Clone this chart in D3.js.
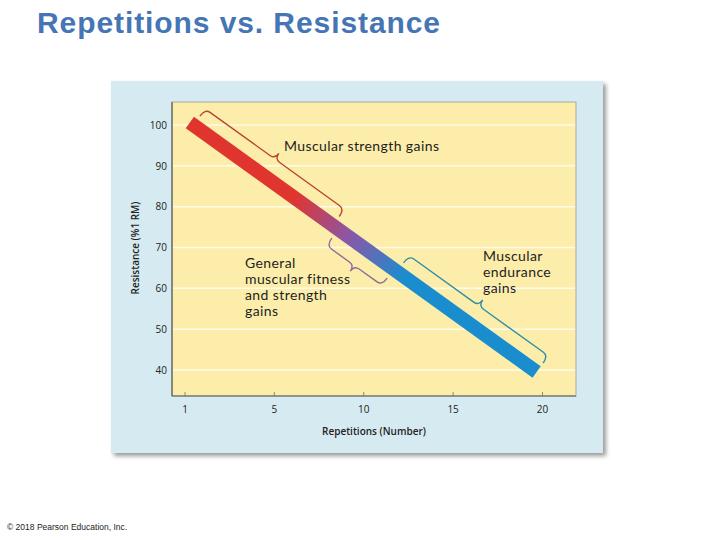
<!DOCTYPE html>
<html>
<head>
<meta charset="utf-8">
<script src="https://cdn.jsdelivr.net/npm/d3@7"></script>
<style>
  body { margin: 0; background: #fff; }
  svg { display: block; }
</style>
</head>
<body>
<div id="chart"></div>
<script>
// values
const xTickValues = [0, 5, 10, 15, 20];
const xTickLabels = ["1", "5", "10", "15", "20"];
const yTickValues = [40, 50, 60, 70, 80, 90, 100];

// the thick bar: repetitions vs resistance at its two ends
const barReps = [0.3, 19.7];
const barResistance = [100.6, 39.5];

// brace ranges along the bar (in repetitions)
const braceNames = ["strength", "general", "endurance"];
const braceFrom = [0.5, 8.6, 11.9];
const braceTo = [8.3, 11.7, 19.7];
const braceSide = [1, -1, 1];
const braceColors = ["#b8452f", "#8e6b98", "#2f8ea6"];

const labelLines = [
  ["Muscular strength gains"],
  ["General", "muscular fitness", "and strength", "gains"],
  ["Muscular", "endurance", "gains"]
];

const width = 720, height = 540;

const svg = d3.select("#chart").append("svg")
  .attr("width", width)
  .attr("height", height);

const defs = svg.append("defs");

// shadow for the blue panel
defs.append("filter")
  .attr("id", "shadow")
  .attr("x", "-5%").attr("y", "-5%")
  .attr("width", "115%").attr("height", "115%")
  .append("feGaussianBlur")
  .attr("stdDeviation", 2);

// title
svg.append("text")
  .attr("x", 37)
  .attr("y", 33)
  .attr("font-family", "Liberation Sans, Arial, sans-serif")
  .attr("font-size", 30)
  .attr("font-weight", "bold")
  .attr("fill", "#4675b5")
  .attr("textLength", 403)
  .attr("lengthAdjust", "spacing")
  .text("Repetitions vs. Resistance");

// copyright
svg.append("text")
  .attr("x", 7)
  .attr("y", 530)
  .attr("font-family", "Liberation Sans, Arial, sans-serif")
  .attr("font-size", 8.5)
  .attr("fill", "#222")
  .text("\u00a9 2018 Pearson Education, Inc.");

// panel
const panel = {x: 111, y: 81, w: 492, h: 372};
svg.append("rect")
  .attr("x", panel.x + 3).attr("y", panel.y + 3)
  .attr("width", panel.w).attr("height", panel.h)
  .attr("fill", "#9a9a9a")
  .attr("filter", "url(#shadow)");
svg.append("rect")
  .attr("x", panel.x).attr("y", panel.y)
  .attr("width", panel.w).attr("height", panel.h)
  .attr("fill", "#d6eaf1");

// plot area
const plot = {left: 172, right: 576, top: 102, bottom: 396};

const x = d3.scaleLinear().domain([0, 20]).range([184.5, 542]);
const y = d3.scaleLinear().domain([40, 100]).range([370, 125]);

svg.append("rect")
  .attr("x", plot.left).attr("y", plot.top)
  .attr("width", plot.right - plot.left)
  .attr("height", plot.bottom - plot.top)
  .attr("fill", "#fcedab")
  .attr("stroke", "#a9a9a0")
  .attr("stroke-width", 1);

// grid lines
svg.append("g")
  .selectAll("line")
  .data(yTickValues)
  .join("line")
  .attr("x1", plot.left + 1)
  .attr("x2", plot.right - 1)
  .attr("y1", d => y(d))
  .attr("y2", d => y(d))
  .attr("stroke", "#fffbe8")
  .attr("stroke-width", 1.5);

// axes
const xAxis = d3.axisBottom(x)
  .tickValues(xTickValues)
  .tickFormat((d, i) => xTickLabels[i])
  .tickSizeInner(-4)
  .tickSizeOuter(0)
  .tickPadding(10);

const gx = svg.append("g")
  .attr("transform", `translate(0,${plot.bottom})`)
  .call(xAxis);
gx.select(".domain").remove();
gx.selectAll(".tick line").attr("stroke", "#8a8a80");
gx.selectAll("text")
  .attr("font-family", "Open Sans, sans-serif")
  .attr("font-size", 10)
  .attr("fill", "#222");

const yAxis = d3.axisLeft(y)
  .tickValues(yTickValues)
  .tickSize(0)
  .tickPadding(5);

const gy = svg.append("g")
  .attr("transform", `translate(${plot.left},0)`)
  .call(yAxis);
gy.select(".domain").remove();
gy.selectAll("text")
  .attr("font-family", "Open Sans, sans-serif")
  .attr("font-size", 10)
  .attr("fill", "#222");

// darker left and bottom axis lines
svg.append("line")
  .attr("x1", plot.left).attr("x2", plot.left)
  .attr("y1", plot.top).attr("y2", plot.bottom)
  .attr("stroke", "#5a5a55").attr("stroke-width", 1.2);
svg.append("line")
  .attr("x1", plot.left).attr("x2", plot.right)
  .attr("y1", plot.bottom).attr("y2", plot.bottom)
  .attr("stroke", "#5a5a55").attr("stroke-width", 1.2);

// axis titles
svg.append("text")
  .attr("x", (plot.left + plot.right) / 2)
  .attr("y", 435)
  .attr("text-anchor", "middle")
  .attr("font-family", "Open Sans, sans-serif")
  .attr("font-size", 10)
  .attr("font-weight", 600)
  .attr("fill", "#222")
  .text("Repetitions (Number)");

svg.append("text")
  .attr("transform", "translate(139,248) rotate(-90)")
  .attr("text-anchor", "middle")
  .attr("font-family", "Open Sans, sans-serif")
  .attr("font-size", 10)
  .attr("font-weight", 600)
  .attr("fill", "#222")
  .text("Resistance (%1 RM)");

// bar with colour gradient
const barRes = d3.scaleLinear().domain(barReps).range(barResistance);
const barPts = barReps.map((r, i) => [x(r), y(barResistance[i])]);

const grad = defs.append("linearGradient")
  .attr("id", "barGrad")
  .attr("gradientUnits", "userSpaceOnUse")
  .attr("x1", barPts[0][0]).attr("y1", barPts[0][1])
  .attr("x2", barPts[1][0]).attr("y2", barPts[1][1]);
grad.selectAll("stop")
  .data([
    {o: 0, c: "#e0352f"},
    {o: 0.3, c: "#e0352f"},
    {o: 0.46, c: "#8a57a8"},
    {o: 0.62, c: "#1a8dcf"},
    {o: 1, c: "#1a8dcf"}
  ])
  .join("stop")
  .attr("offset", d => d.o)
  .attr("stop-color", d => d.c);

const line = d3.line()
  .x(d => x(d))
  .y(d => y(barRes(d)));

svg.append("path")
  .attr("d", line(barReps))
  .attr("fill", "none")
  .attr("stroke", "url(#barGrad)")
  .attr("stroke-width", 14)
  .attr("stroke-linecap", "butt");

// curly braces along the bar
function bracePath(r0, r1, side) {
  const p0 = [x(r0), y(barRes(r0))];
  const p1 = [x(r1), y(barRes(r1))];
  const dx = p1[0] - p0[0], dy = p1[1] - p0[1];
  const L = Math.hypot(dx, dy);
  const u = [dx / L, dy / L];
  const n = [u[1] * side, -u[0] * side];
  const P = (a, o) => [p0[0] + a * u[0] + o * n[0], p0[1] + a * u[1] + o * n[1]].map(v => v.toFixed(1)).join(",");
  const hook = 11, main = 20, nub = 27, r = 6, m = L / 2;
  return `M${P(0, hook)} Q${P(0, main)} ${P(r, main)} L${P(m - r, main)} ` +
    `Q${P(m, main)} ${P(m, nub)} Q${P(m, main)} ${P(m + r, main)} ` +
    `L${P(L - r, main)} Q${P(L, main)} ${P(L, hook)}`;
}

svg.append("g")
  .selectAll("path")
  .data(braceNames)
  .join("path")
  .attr("d", (d, i) => bracePath(braceFrom[i], braceTo[i], braceSide[i]))
  .attr("fill", "none")
  .attr("stroke", (d, i) => braceColors[i])
  .attr("stroke-width", 1.4);

// labels, one text per line
const labelPos = [
  {x: 284, y: 151},
  {x: 245, y: 268},
  {x: 483, y: 261}
];

labelLines.forEach((lines, i) => {
  svg.append("g")
    .selectAll("text")
    .data(lines)
    .join("text")
    .attr("x", labelPos[i].x)
    .attr("y", (d, j) => labelPos[i].y + j * 16)
    .attr("font-family", "Lato, sans-serif")
    .attr("font-size", 14)
    .attr("letter-spacing", 0.4)
    .attr("fill", "#1e1e1e")
    .text(d => d);
});
</script>
</body>
</html>
